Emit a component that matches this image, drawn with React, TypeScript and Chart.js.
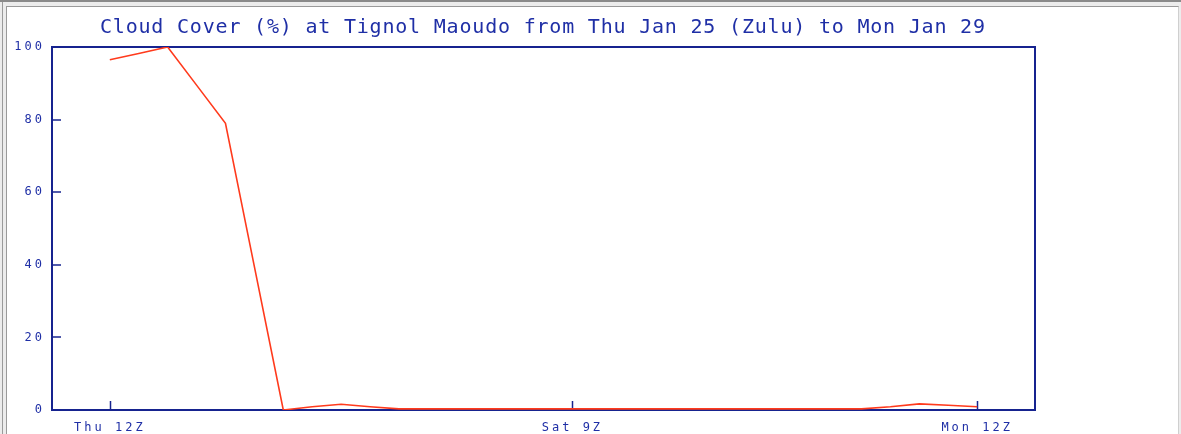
import React, { useEffect, useRef } from 'react';
import { Chart, registerables } from 'chart.js';

Chart.register(...registerables);

// forecast step index (non-uniform time steps, plotted evenly)
const stepIndex = [
  0, 1, 2, 3, 4, 5, 6, 7, 8, 9, 10, 11, 12, 13, 14, 15,
  16, 17, 18, 19, 20, 21, 22, 23, 24, 25, 26, 27, 28, 29, 30,
];
// cloud cover (%)
const cloudCover = [
  96.5, 98.2, 100, 89.5, 79, 39.5, 0, 0.9, 1.6, 0.9, 0.3, 0.3, 0.3, 0.3, 0.3, 0.3,
  0.3, 0.3, 0.3, 0.3, 0.3, 0.3, 0.3, 0.3, 0.3, 0.3, 0.3, 0.9, 1.7, 1.3, 0.9,
];
const xTickIndex = [0, 16, 30];
const xTickLabels = ['Thu 12Z', 'Sat 9Z', 'Mon 12Z'];
const yTickStep = 20;
const titleText = 'Cloud Cover (%) at Tignol Maoudo from Thu Jan 25 (Zulu) to Mon Jan 29';

const NAVY = '#16238f';
const TEXT = '#1f2fa6';
const RED = '#ff3a1c';

const framePlugin = {
  id: 'framePlugin',
  beforeDraw(chart: any) {
    (chart.ctx as any).letterSpacing = '3px';
  },
  beforeDatasetsDraw(chart: any) {
    const { ctx, chartArea: a, scales } = chart;
    (ctx as any).letterSpacing = '0px';
    ctx.save();
    ctx.strokeStyle = NAVY;
    ctx.lineWidth = 2;
    ctx.strokeRect(a.left, a.top, a.right - a.left, a.bottom - a.top);
    ctx.lineWidth = 1.5;
    scales.y.ticks.forEach((t: any) => {
      const y = Math.round(scales.y.getPixelForValue(t.value));
      ctx.beginPath();
      ctx.moveTo(a.left, y);
      ctx.lineTo(a.left + 9, y);
      ctx.stroke();
    });
    scales.x.ticks.forEach((t: any) => {
      const x = Math.round(scales.x.getPixelForValue(t.value)) + 0.5;
      ctx.beginPath();
      ctx.moveTo(x, a.bottom);
      ctx.lineTo(x, a.bottom - 9);
      ctx.stroke();
    });
    // title
    ctx.font = '20px "DejaVu Sans Mono"';
    ctx.fillStyle = TEXT;
    ctx.textAlign = 'left';
    ctx.textBaseline = 'alphabetic';
    const w = ctx.measureText(titleText).width;
    const spacing = (885 - w) / (titleText.length - 1);
    (ctx as any).letterSpacing = spacing + 'px';
    ctx.fillText(titleText, 100, 33);
    (ctx as any).letterSpacing = '0px';
    ctx.restore();
  },
};

export default function App() {
  const ref = useRef<HTMLCanvasElement | null>(null);

  useEffect(() => {
    if (!ref.current) return;
    const chart = new Chart(ref.current, {
      type: 'line',
      data: {
        datasets: [
          {
            data: stepIndex.map((s, i) => ({ x: s, y: cloudCover[i] })),
            borderColor: RED,
            borderWidth: 1.6,
            pointRadius: 0,
            tension: 0,
            fill: false,
          },
        ],
      },
      options: {
        animation: false,
        responsive: false,
        devicePixelRatio: 1,
        layout: { padding: { left: 0, right: 146, top: 47, bottom: 0 } },
        plugins: {
          legend: { display: false },
          title: { display: false },
          tooltip: { enabled: false },
        },
        scales: {
          x: {
            type: 'linear',
            min: -2,
            max: 32,
            grid: { display: false, drawTicks: false },
            border: { display: false },
            afterBuildTicks: (scale: any) => {
              scale.ticks = xTickIndex.map((v) => ({ value: v }));
            },
            afterFit: (scale: any) => {
              scale.height = 24;
            },
            ticks: {
              autoSkip: false,
              maxRotation: 0,
              padding: 11,
              color: TEXT,
              font: { family: '"DejaVu Sans Mono"', size: 12 },
              callback: (v: any) => {
                const i = xTickIndex.indexOf(Number(v));
                return i >= 0 ? xTickLabels[i] : '';
              },
            },
          },
          y: {
            min: 0,
            max: 100,
            grid: { display: false, drawTicks: false },
            border: { display: false },
            afterFit: (scale: any) => {
              scale.width = 52;
            },
            ticks: {
              stepSize: yTickStep,
              padding: 7,
              color: TEXT,
              font: { family: '"DejaVu Sans Mono"', size: 12 },
            },
          },
        },
      },
      plugins: [framePlugin],
    });
    return () => chart.destroy();
  }, []);

  return (
    <div
      style={{
        position: 'absolute',
        left: 0,
        top: 0,
        width: 1181,
        height: 434,
        overflow: 'hidden',
        background: '#ececec',
        boxSizing: 'border-box',
        borderTop: '2px solid #8a8a8a',
      }}
    >
      <div style={{ position: 'absolute', left: 2, top: 0, width: 1, height: 440, background: '#9a9a9a' }} />
      <div
        style={{
          position: 'absolute',
          left: 6,
          top: 4,
          width: 1173,
          height: 440,
          background: '#ffffff',
          boxSizing: 'border-box',
          borderTop: '1px solid #9a9a9a',
          borderLeft: '1px solid #9a9a9a',
          borderRight: '1px solid #cfcfcf',
        }}
      />
      <canvas
        ref={ref}
        width={1181}
        height={434}
        style={{ position: 'absolute', left: 0, top: -2, width: 1181, height: 434 }}
      />
    </div>
  );
}
